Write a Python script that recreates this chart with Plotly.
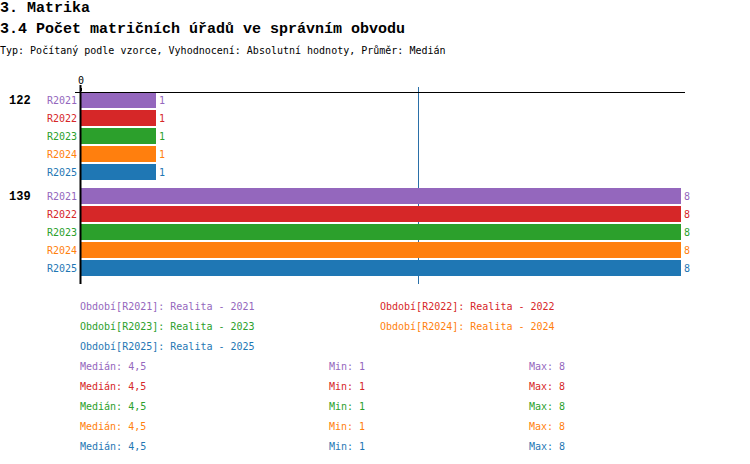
import plotly.graph_objects as go
import statistics

# ---- data ----
groups = ["122", "139"]
series = ["R2021", "R2022", "R2023", "R2024", "R2025"]
series_names = ["Realita - 2021", "Realita - 2022", "Realita - 2023", "Realita - 2024", "Realita - 2025"]
values_122 = [1, 1, 1, 1, 1]
values_139 = [8, 8, 8, 8, 8]
colors = ["#9467bd", "#d62728", "#2ca02c", "#ff7f0e", "#1f77b4"]

title1 = "3. Matrika"
title2 = "3.4 Počet matričních úřadů ve správním obvodu"
subtitle = "Typ: Počítaný podle vzorce, Vyhodnocení: Absolutní hodnoty, Průměr: Medián"

W, H = 750, 464
ML, MR, MT, MB = 81, 65, 92, 180
PW = W - ML - MR
PH = H - MT - MB

MONO = "Liberation Mono, DejaVu Sans Mono, monospace"
SMALL = "DejaVu Sans Mono, Liberation Mono, monospace"

group_pitch = 16 / 3  # rows per group incl. gap
values_by_group = [values_122, values_139]

def row_pos(g, s):
    return g * group_pitch + s

fig = go.Figure()
for s, name in enumerate(series):
    xs = [values_by_group[g][s] for g in range(len(groups))]
    ys = [row_pos(g, s) for g in range(len(groups))]
    fig.add_trace(go.Bar(
        x=xs, y=ys, orientation="h", width=16 / 18,
        marker=dict(color=colors[s], line=dict(width=0)),
        text=[str(v) for v in xs], textposition="outside",
        textfont=dict(family=SMALL, size=10, color=colors[s]),
        constraintext="none", cliponaxis=False,
        showlegend=False, name=name, hoverinfo="skip",
    ))

vmax = 8.053
y_top = -8 / 18
y_bot = row_pos(1, 4) + 0.5 + 8 / 18 - 1 / 18

fig.update_layout(
    width=W, height=H,
    margin=dict(l=ML, r=MR, t=MT, b=MB, pad=0),
    paper_bgcolor="white", plot_bgcolor="white",
    bargap=0,
    xaxis=dict(range=[0, vmax], side="top", tickvals=[0], ticktext=["0"],
               showgrid=False, zeroline=False, showline=False,
               ticks="outside", ticklen=3, tickwidth=2, tickcolor="black",
               tickfont=dict(family=SMALL, size=10, color="black")),
    yaxis=dict(range=[y_bot, y_top], showgrid=False, zeroline=False,
               showline=False, showticklabels=False, ticks=""),
    font=dict(family=SMALL, size=10, color="black"),
)

# lines
med_all = statistics.median([values_122[0], values_139[0]])
fig.add_shape(type="line", xref="x", yref="paper", x0=med_all, x1=med_all,
              y0=0, y1=1 + 5 / PH, line=dict(color="#2a6fa8", width=1), layer="below")
fig.add_shape(type="line", xref="paper", yref="paper", x0=-6 / PW, x1=1,
              y0=1 - 0.5 / PH, y1=1 - 0.5 / PH, line=dict(color="black", width=1))
fig.add_shape(type="line", xref="paper", yref="paper", x0=-0.5 / PW, x1=-0.5 / PW,
              y0=0, y1=1 + 7 / PH, line=dict(color="black", width=2))

def add_text(text, x_px, y_px, size=10, color="black", bold=False, xanchor="left", family=SMALL):
    if bold:
        text = "<b>" + text + "</b>"
    fig.add_annotation(text=text, xref="paper", yref="paper",
                       x=(x_px - ML) / PW, y=1 - (y_px - MT) / PH,
                       xanchor=xanchor, yanchor="middle", showarrow=False,
                       font=dict(family=family, size=size, color=color))

add_text(title1, -2, 9, size=15, bold=True, family=MONO)
add_text(title2, -2, 30, size=15, bold=True, family=MONO)
add_text(subtitle, -2, 51, size=10)

# group + series labels
for g, gname in enumerate(groups):
    fig.add_annotation(text="<b>" + gname + "</b>", xref="paper", yref="y",
                       x=(33 - ML) / PW, y=row_pos(g, 0) + 1 / 18, xanchor="right",
                       yanchor="middle", showarrow=False,
                       font=dict(family=MONO, size=12, color="black"))
    for s, sname in enumerate(series):
        fig.add_annotation(text=sname, xref="paper", yref="y",
                           x=(79 - ML) / PW, y=row_pos(g, s), xanchor="right",
                           yanchor="middle", showarrow=False,
                           font=dict(family=SMALL, size=10, color=colors[s]))

# legend lines
leg_pos = [(78, 306), (378, 306), (78, 326), (378, 326), (78, 346)]
for s, sname in enumerate(series):
    add_text(f"Období[{sname}]: {series_names[s]}", leg_pos[s][0], leg_pos[s][1], size=10, color=colors[s])

def fmt(v):
    return (f"{v:g}").replace(".", ",")

for s, sname in enumerate(series):
    vals = [values_by_group[g][s] for g in range(len(groups))]
    y = 366 + 20 * s
    add_text(f"Medián: {fmt(statistics.median(vals))}", 78, y, size=10, color=colors[s])
    add_text(f"Min: {fmt(min(vals))}", 327, y, size=10, color=colors[s])
    add_text(f"Max: {fmt(max(vals))}", 527, y, size=10, color=colors[s])

fig.write_html("out.html", config={"displayModeBar": False},
               post_script="document.body.style.margin='0';document.body.style.overflow='hidden';")
